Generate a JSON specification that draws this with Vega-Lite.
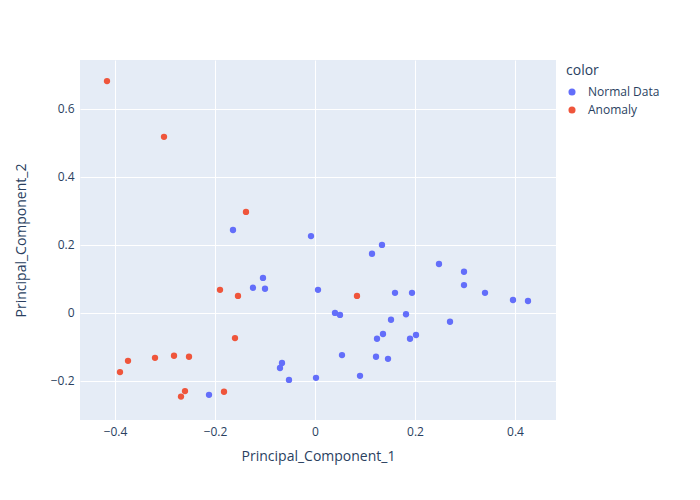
{
  "$schema": "https://vega.github.io/schema/vega-lite/v6.json",
  "width": 476,
  "height": 360,
  "autosize": {"type": "none"},
  "padding": {"left": 80, "top": 60, "right": 144, "bottom": 80},
  "background": "white",
  "data": {
    "values": [
      {"pc1": -0.164, "pc2": 0.244, "color": "Normal Data"},
      {"pc1": -0.008, "pc2": 0.226, "color": "Normal Data"},
      {"pc1": -0.104, "pc2": 0.103, "color": "Normal Data"},
      {"pc1": -0.124, "pc2": 0.074, "color": "Normal Data"},
      {"pc1": -0.1, "pc2": 0.071, "color": "Normal Data"},
      {"pc1": 0.006, "pc2": 0.068, "color": "Normal Data"},
      {"pc1": 0.134, "pc2": 0.2, "color": "Normal Data"},
      {"pc1": 0.114, "pc2": 0.174, "color": "Normal Data"},
      {"pc1": 0.248, "pc2": 0.144, "color": "Normal Data"},
      {"pc1": 0.298, "pc2": 0.121, "color": "Normal Data"},
      {"pc1": 0.298, "pc2": 0.082, "color": "Normal Data"},
      {"pc1": 0.34, "pc2": 0.059, "color": "Normal Data"},
      {"pc1": 0.396, "pc2": 0.038, "color": "Normal Data"},
      {"pc1": 0.426, "pc2": 0.035, "color": "Normal Data"},
      {"pc1": 0.16, "pc2": 0.059, "color": "Normal Data"},
      {"pc1": 0.194, "pc2": 0.059, "color": "Normal Data"},
      {"pc1": 0.04, "pc2": 0.0, "color": "Normal Data"},
      {"pc1": 0.05, "pc2": -0.006, "color": "Normal Data"},
      {"pc1": 0.182, "pc2": -0.004, "color": "Normal Data"},
      {"pc1": 0.152, "pc2": -0.02, "color": "Normal Data"},
      {"pc1": 0.27, "pc2": -0.026, "color": "Normal Data"},
      {"pc1": 0.136, "pc2": -0.062, "color": "Normal Data"},
      {"pc1": 0.124, "pc2": -0.076, "color": "Normal Data"},
      {"pc1": 0.202, "pc2": -0.065, "color": "Normal Data"},
      {"pc1": 0.19, "pc2": -0.076, "color": "Normal Data"},
      {"pc1": 0.054, "pc2": -0.124, "color": "Normal Data"},
      {"pc1": 0.122, "pc2": -0.129, "color": "Normal Data"},
      {"pc1": 0.146, "pc2": -0.135, "color": "Normal Data"},
      {"pc1": -0.066, "pc2": -0.147, "color": "Normal Data"},
      {"pc1": -0.07, "pc2": -0.162, "color": "Normal Data"},
      {"pc1": -0.052, "pc2": -0.197, "color": "Normal Data"},
      {"pc1": 0.002, "pc2": -0.191, "color": "Normal Data"},
      {"pc1": 0.09, "pc2": -0.185, "color": "Normal Data"},
      {"pc1": -0.212, "pc2": -0.241, "color": "Normal Data"},
      {"pc1": -0.416, "pc2": 0.682, "color": "Anomaly"},
      {"pc1": -0.302, "pc2": 0.518, "color": "Anomaly"},
      {"pc1": -0.138, "pc2": 0.297, "color": "Anomaly"},
      {"pc1": -0.19, "pc2": 0.068, "color": "Anomaly"},
      {"pc1": -0.154, "pc2": 0.05, "color": "Anomaly"},
      {"pc1": 0.084, "pc2": 0.05, "color": "Anomaly"},
      {"pc1": -0.16, "pc2": -0.074, "color": "Anomaly"},
      {"pc1": -0.32, "pc2": -0.132, "color": "Anomaly"},
      {"pc1": -0.282, "pc2": -0.126, "color": "Anomaly"},
      {"pc1": -0.252, "pc2": -0.129, "color": "Anomaly"},
      {"pc1": -0.374, "pc2": -0.141, "color": "Anomaly"},
      {"pc1": -0.39, "pc2": -0.174, "color": "Anomaly"},
      {"pc1": -0.26, "pc2": -0.23, "color": "Anomaly"},
      {"pc1": -0.268, "pc2": -0.246, "color": "Anomaly"},
      {"pc1": -0.182, "pc2": -0.232, "color": "Anomaly"}
    ]
  },
  "mark": {"type": "circle", "size": 40, "opacity": 1},
  "encoding": {
    "x": {
      "field": "pc1", "type": "quantitative", "title": "Principal_Component_1",
      "scale": {"domain": [-0.47, 0.482], "nice": false, "zero": false},
      "axis": {"values": [-0.4, -0.2, 0, 0.2, 0.4], "format": ".1~f"}
    },
    "y": {
      "field": "pc2", "type": "quantitative", "title": "Principal_Component_2",
      "scale": {"domain": [-0.315, 0.744], "nice": false, "zero": false},
      "axis": {"values": [-0.2, 0, 0.2, 0.4, 0.6], "format": ".1~f", "titlePadding": 22}
    },
    "color": {
      "field": "color", "type": "nominal", "title": "color",
      "scale": {"domain": ["Normal Data", "Anomaly"], "range": ["#636efa", "#EF553B"]},
      "legend": {"orient": "none", "legendX": 486, "legendY": 4, "symbolType": "circle", "symbolSize": 50, "rowPadding": 6, "titlePadding": 8, "labelOffset": 10}
    }
  },
  "config": {
    "font": "Open Sans",
    "view": {"fill": "#E5ECF6", "stroke": null},
    "axis": {
      "domain": false, "ticks": false, "gridColor": "white", "gridWidth": 1,
      "labelColor": "#2a3f5f", "labelFontSize": 12, "labelPadding": 6,
      "titleColor": "#2a3f5f", "titleFontSize": 14, "titleFontWeight": "normal", "titlePadding": 12
    },
    "legend": {
      "titleColor": "#2a3f5f", "titleFontSize": 14, "titleFontWeight": "normal",
      "labelColor": "#2a3f5f", "labelFontSize": 12
    }
  }
}
